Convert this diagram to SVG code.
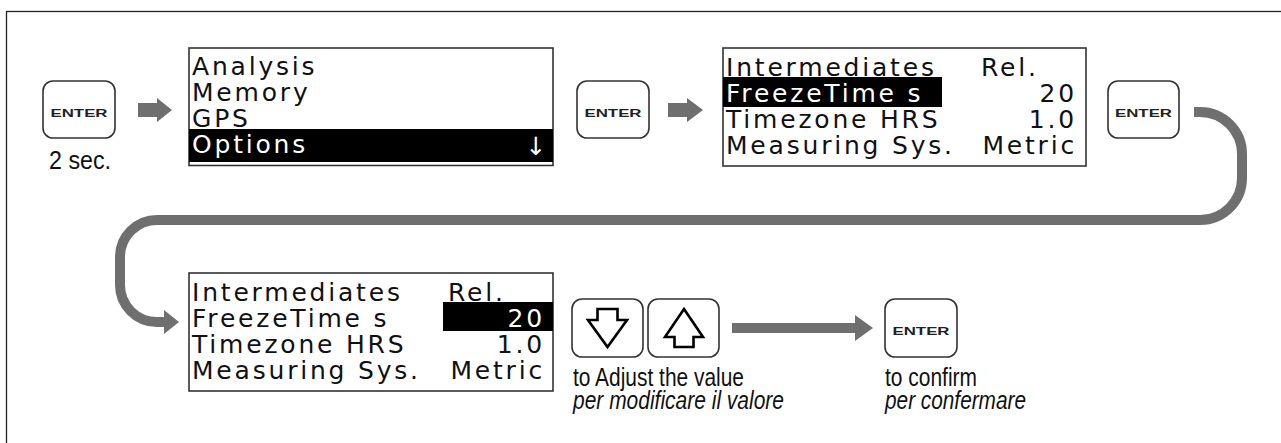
<svg xmlns="http://www.w3.org/2000/svg" width="1281" height="443" viewBox="0 0 1281 443">
<style>
.frame{fill:none;stroke:#222;stroke-width:1.3}
.scr{fill:#fff;stroke:#333;stroke-width:1.6}
.key{fill:#fff;stroke:#333;stroke-width:1.6}
.lcd{font-family:"DejaVu Sans",Verdana,sans-serif;font-size:25px;letter-spacing:2.8px;fill:#111}
.inv{fill:#fff}
.ent{font-family:"Liberation Sans",Arial,sans-serif;font-weight:bold;font-size:10.5px;fill:#222}
.lbl{font-family:"Liberation Sans",Arial,sans-serif;font-size:25px;fill:#111}
.it{font-style:italic}
.garr{fill:#6f6f6f}
.conn{fill:none;stroke:#6f6f6f;stroke-width:10}
.icon{fill:#fff;stroke:#000;stroke-width:2.6;stroke-linejoin:miter}
</style>
<rect class="frame" x="6.5" y="11.5" width="1300" height="500"/>

<g id="key1">
<rect class="key" x="43" y="81" width="72" height="57" rx="10"/>
<text class="ent" x="50.5" y="117" textLength="57" lengthAdjust="spacingAndGlyphs">ENTER</text>
<text class="lbl" x="49" y="169" font-size="27" textLength="62" lengthAdjust="spacingAndGlyphs">2 sec.</text>
</g>

<g id="screen1">
<rect class="scr" x="189" y="48" width="364" height="117.5"/>
<rect x="189" y="129" width="364" height="33" fill="#000"/>
<text class="lcd" x="192" y="75">Analysis</text>
<text class="lcd" x="192" y="101">Memory</text>
<text class="lcd" x="192" y="127">GPS</text>
<text class="lcd inv" x="192" y="153">Options</text>
<text class="lcd inv" x="536" y="155" text-anchor="middle" style="letter-spacing:0">↓</text>
</g>

<g id="key2">
<rect class="key" x="577" y="81" width="72" height="57" rx="10"/>
<text class="ent" x="584.5" y="117" textLength="57" lengthAdjust="spacingAndGlyphs">ENTER</text>
</g>

<g id="screen2">
<rect class="scr" x="723" y="48" width="363" height="118"/>
<rect x="723" y="77" width="219" height="30" fill="#000"/>
<text class="lcd" x="726" y="76">Intermediates</text>
<text class="lcd" x="981" y="76">Rel.</text>
<text class="lcd inv" x="726" y="102">FreezeTime s</text>
<text class="lcd" x="1077" y="102" text-anchor="end">20</text>
<text class="lcd" x="726" y="128">Timezone HRS</text>
<text class="lcd" x="1077" y="128" text-anchor="end">1.0</text>
<text class="lcd" x="726" y="154">Measuring Sys.</text>
<text class="lcd" x="1077" y="154" text-anchor="end">Metric</text>
</g>

<g id="key3">
<rect class="key" x="1108" y="81" width="71" height="57" rx="10"/>
<text class="ent" x="1115" y="117" textLength="57" lengthAdjust="spacingAndGlyphs">ENTER</text>
</g>

<g id="screen3">
<rect class="scr" x="189" y="273" width="364" height="118"/>
<rect x="443" y="302" width="110" height="29" fill="#000"/>
<text class="lcd" x="192" y="301">Intermediates</text>
<text class="lcd" x="448" y="301">Rel.</text>
<text class="lcd" x="192" y="327">FreezeTime s</text>
<text class="lcd inv" x="545" y="327" text-anchor="end">20</text>
<text class="lcd" x="192" y="353">Timezone HRS</text>
<text class="lcd" x="545" y="353" text-anchor="end">1.0</text>
<text class="lcd" x="192" y="379">Measuring Sys.</text>
<text class="lcd" x="545" y="379" text-anchor="end">Metric</text>
</g>

<g id="updown">
<rect class="key" x="572" y="299" width="71" height="58" rx="10"/>
<rect class="key" x="648" y="299" width="71" height="58" rx="10"/>
<polygon class="icon" points="597.5,309 617.5,309 617.5,320 627,320 607.5,347 588,320 597.5,320"/>
<polygon class="icon" points="684,309 703,337 693.5,337 693.5,347 674.5,347 674.5,337 665,337"/>
<text class="lbl" x="573" y="386" textLength="171" lengthAdjust="spacingAndGlyphs">to Adjust the value</text>
<text class="lbl it" x="573" y="409" textLength="211" lengthAdjust="spacingAndGlyphs">per modificare il valore</text>
</g>

<g id="key4">
<rect class="key" x="885" y="299" width="72" height="58" rx="10"/>
<text class="ent" x="892.5" y="335" textLength="57" lengthAdjust="spacingAndGlyphs">ENTER</text>
<text class="lbl" x="885" y="386" textLength="92" lengthAdjust="spacingAndGlyphs">to confirm</text>
<text class="lbl it" x="885" y="409" textLength="141" lengthAdjust="spacingAndGlyphs">per confermare</text>
</g>

<g id="connectors">
<polygon class="garr" points="138,103 157,103 157,98 172,110 157,122 157,117 138,117"/>
<polygon class="garr" points="668,103 687,103 687,98 703,110 687,122 687,117 668,117"/>
<path class="conn" d="M1194,112 H1200 A42,42 0 0 1 1242,154 V178 A42,42 0 0 1 1200,220 H157 A37,37 0 0 0 120,257 V285 A37,37 0 0 0 157,322 H166"/>
<polygon class="garr" points="164,310 179,322 164,334"/>
<polygon class="garr" points="732,323 855,323 855,315 873,328 855,341 855,333 732,333"/>
</g>
</svg>
